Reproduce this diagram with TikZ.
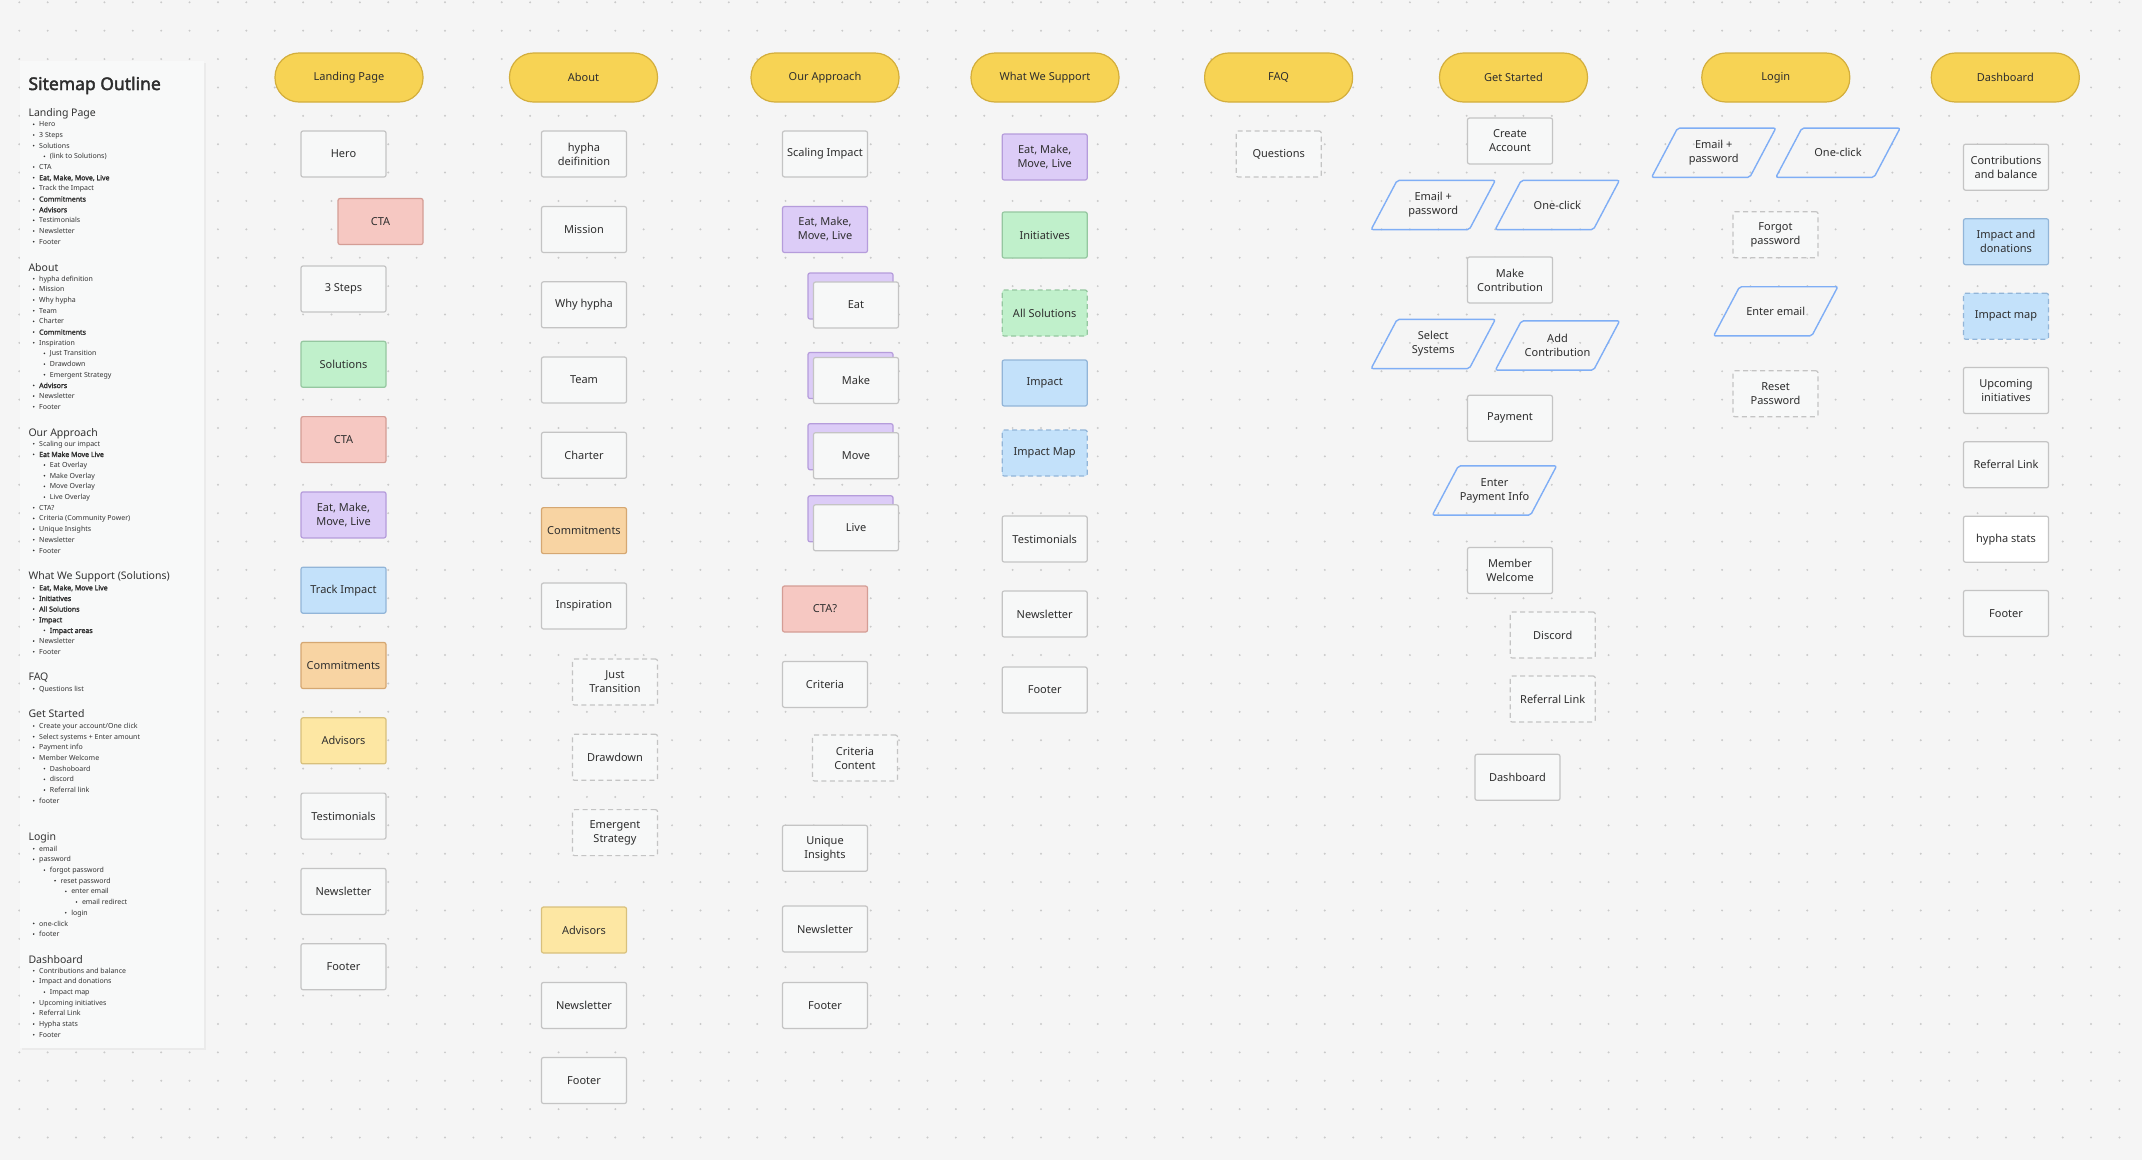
\documentclass[tikz,border=0pt]{standalone}
\usepackage{fontspec}
\setmainfont{Noto Sans}[AutoFakeBold=2.2]
\usepackage{xcolor}
\usepackage{tikz}
\usetikzlibrary{calc}

\definecolor{bgc}{HTML}{F5F5F5}
\definecolor{dotc}{HTML}{CACACA}
\definecolor{panel}{HTML}{F8F9F9}
\definecolor{txt}{HTML}{2E2E2E}
\definecolor{otxt}{HTML}{333333}
\definecolor{secf}{HTML}{F7F8F8}
\definecolor{secb}{HTML}{C4C4C4}
\definecolor{pgf}{HTML}{F7D354}
\definecolor{pgb}{HTML}{D3AE3C}
\definecolor{ctaf}{HTML}{F6C8C2}
\definecolor{ctab}{HTML}{D49D95}
\definecolor{grnf}{HTML}{C0F0CB}
\definecolor{grnb}{HTML}{95C7A0}
\definecolor{prpf}{HTML}{DCCCF7}
\definecolor{prpb}{HTML}{B59CDB}
\definecolor{bluf}{HTML}{C3E1FA}
\definecolor{blub}{HTML}{92B5D8}
\definecolor{orgf}{HTML}{F8D4A3}
\definecolor{orgb}{HTML}{D5A772}
\definecolor{ylwf}{HTML}{FDE7A3}
\definecolor{ylwb}{HTML}{D8C07C}
\definecolor{parab}{HTML}{7FAEF5}

\begin{document}
\begin{tikzpicture}[x=1pt, y=-1pt,
  box/.style={rectangle,rounded corners=2,line width=1.2,minimum width=85,minimum height=46,inner sep=1,align=center,text=txt,font=\fontsize{11}{14}\selectfont},
  sec/.style={box,draw=secb,fill=secf},
  opt/.style={sec,dash pattern=on 5pt off 3.5pt},
  cta/.style={box,draw=ctab,fill=ctaf},
  grn/.style={box,draw=grnb,fill=grnf},
  prp/.style={box,draw=prpb,fill=prpf},
  blu/.style={box,draw=blub,fill=bluf},
  org/.style={box,draw=orgb,fill=orgf},
  ylw/.style={box,draw=ylwb,fill=ylwf},
  para/.style={box,minimum width=97,minimum height=48},
  pline/.style={draw=parab,line width=1.4,rounded corners=2},
  pg/.style={rounded corners=24,draw=pgb,fill=pgf,line width=1.2,minimum width=148,minimum height=49,text=txt,font=\fontsize{11}{14}\selectfont},
  otitle/.style={anchor=base west,inner sep=0,text=txt,font=\fontsize{17.5}{20}\selectfont\bfseries},
  ohead/.style={anchor=base west,inner sep=0,text=otxt,font=\fontsize{10.5}{12}\selectfont},
  oitem/.style={anchor=base west,inner sep=0,text=otxt,font=\fontsize{7}{8}\selectfont},
  bul/.style={fill=otxt}]
  \useasboundingbox (0,0) rectangle (2142,1160);
  \fill[bgc] (0,0) rectangle (2142,1160);
  %--- dot grid ---
  \foreach \i in {0,...,74}
    \foreach \j in {0,...,40}
      \fill[dotc] ({19.3+\i*28.38},{2.3+\j*28.38}) circle (1.1);

  %--- outline panel (left) ---
  \fill[black!8] (21.5,62.5) rectangle (206,1050);
  \fill[panel] (20,61) rectangle (204,1048);
  \node[otitle] (ttl) at (28.3,90) {Sitemap Outline};
  \node[ohead] (olpH) at (28.3,116.7) {Landing Page};
  \foreach \l/\t [count=\i] in {0/Hero,0/3 Steps,0/Solutions,1/(link to Solutions),0/CTA,
      0/\textbf{Eat, Make, Move, Live},0/Track the Impact,0/\textbf{Commitments},0/\textbf{Advisors},
      0/Testimonials,0/Newsletter,0/Footer}
    {\fill[bul] ({33.7+\l*10.7},{124.3+(\i-1)*10.67}) circle (0.9);
     \node[oitem] (olp\i) at ({39+\l*10.7},{126.9+(\i-1)*10.67}) {\t};}
  \node[ohead] (oabH) at (28.3,271) {About};
  \foreach \l/\t [count=\i] in {0/hypha definition,0/Mission,0/Why hypha,0/Team,0/Charter,
      0/\textbf{Commitments},0/Inspiration,1/Just Transition,1/Drawdown,1/Emergent Strategy,
      0/\textbf{Advisors},0/Newsletter,0/Footer}
    {\fill[bul] ({33.7+\l*10.7},{278.7+(\i-1)*10.67}) circle (0.9);
     \node[oitem] (oab\i) at ({39+\l*10.7},{281.3+(\i-1)*10.67}) {\t};}
  \node[ohead] (oapH) at (28.3,436) {Our Approach};
  \foreach \l/\t [count=\i] in {0/Scaling our impact,0/\textbf{Eat Make Move Live},1/Eat Overlay,
      1/Make Overlay,1/Move Overlay,1/Live Overlay,0/CTA?,0/Criteria (Community Power),
      0/Unique Insights,0/Newsletter,0/Footer}
    {\fill[bul] ({33.7+\l*10.7},{443.7+(\i-1)*10.67}) circle (0.9);
     \node[oitem] (oap\i) at ({39+\l*10.7},{446.3+(\i-1)*10.67}) {\t};}
  \node[ohead] (owsH) at (28.3,579.7) {What We Support (Solutions)};
  \foreach \l/\t [count=\i] in {0/\textbf{Eat, Make, Move Live},0/\textbf{Initiatives},
      0/\textbf{All Solutions},0/\textbf{Impact},1/\textbf{Impact areas},0/Newsletter,0/Footer}
    {\fill[bul] ({33.7+\l*10.7},{587.7+(\i-1)*10.67}) circle (0.9);
     \node[oitem] (ows\i) at ({39+\l*10.7},{590.3+(\i-1)*10.67}) {\t};}
  \node[ohead] (ofqH) at (28.3,680.3) {FAQ};
  \fill[bul] (33.7,688.7) circle (0.9);
  \node[oitem] (ofq1) at (39,691.3) {Questions list};
  \node[ohead] (ogsH) at (28.3,717.7) {Get Started};
  \foreach \l/\t [count=\i] in {0/{Create your account/One click},0/Select systems + Enter amount,
      0/Payment info,0/Member Welcome,1/Dashoboard,1/discord,1/Referral link,0/footer}
    {\fill[bul] ({33.7+\l*10.7},{726+(\i-1)*10.67}) circle (0.9);
     \node[oitem] (ogs\i) at ({39+\l*10.7},{728.6+(\i-1)*10.67}) {\t};}
  \node[ohead] (olgH) at (28.3,840.3) {Login};
  \foreach \l/\t [count=\i] in {0/email,0/password,1/forgot password,2/reset password,
      3/enter email,4/email redirect,3/login,0/one-click,0/footer}
    {\fill[bul] ({33.7+\l*10.7},{848.7+(\i-1)*10.67}) circle (0.9);
     \node[oitem] (olg\i) at ({39+\l*10.7},{851.3+(\i-1)*10.67}) {\t};}
  \node[ohead] (odbH) at (28.3,963) {Dashboard};
  \foreach \l/\t [count=\i] in {0/Contributions and balance,0/Impact and donations,1/Impact map,
      0/Upcoming initiatives,0/Referral Link,0/Hypha stats,0/Footer}
    {\fill[bul] ({33.7+\l*10.7},{970.7+(\i-1)*10.67}) circle (0.9);
     \node[oitem] (odb\i) at ({39+\l*10.7},{973.3+(\i-1)*10.67}) {\t};}

  %--- page headers ---
  \foreach \x/\t [count=\i] in {349/Landing Page,583.5/About,825/Our Approach,1045/What We Support,
      1278.6/FAQ,1513.5/Get Started,1775.8/Login,2005.3/Dashboard}
    \node[pg] (hd\i) at (\x,77.5) {\t};

  %--- Landing Page ---
  \pgfmathsetmacro{\lx}{343.5}
  \node[sec] (lp1)  at (\lx,154)   {Hero};
  \node[cta] (lp2)  at (\lx+37,221.5) {CTA};
  \node[sec] (lp3)  at (\lx,289)   {3 Steps};
  \node[grn] (lp4)  at (\lx,364.3) {Solutions};
  \node[cta] (lp5)  at (\lx,439.6) {CTA};
  \node[prp] (lp6)  at (\lx,514.9) {Eat, Make,\\Move, Live};
  \node[blu] (lp7)  at (\lx,590.2) {Track Impact};
  \node[org] (lp8)  at (\lx,665.5) {Commitments};
  \node[ylw] (lp9)  at (\lx,740.8) {Advisors};
  \node[sec] (lp10) at (\lx,816.1) {Testimonials};
  \node[sec] (lp11) at (\lx,891.4) {Newsletter};
  \node[sec] (lp12) at (\lx,966.7) {Footer};

  %--- About ---
  \pgfmathsetmacro{\ax}{584}
  \node[sec] (ab1)  at (\ax,154)   {hypha\\deifinition};
  \node[sec] (ab2)  at (\ax,229.5) {Mission};
  \node[sec] (ab3)  at (\ax,304.8) {Why hypha};
  \node[sec] (ab4)  at (\ax,380)   {Team};
  \node[sec] (ab5)  at (\ax,455.3) {Charter};
  \node[org] (ab6)  at (\ax,530.6) {Commitments};
  \node[sec] (ab7)  at (\ax,606)   {Inspiration};
  \node[opt] (ab8)  at (\ax+31,682)   {Just\\Transition};
  \node[opt] (ab9)  at (\ax+31,757.3) {Drawdown};
  \node[opt] (ab10) at (\ax+31,832.6) {Emergent\\Strategy};
  \node[ylw] (ab11) at (\ax,930)    {Advisors};
  \node[sec] (ab12) at (\ax,1005.4) {Newsletter};
  \node[sec] (ab13) at (\ax,1080.5) {Footer};

  %--- Our Approach ---
  \pgfmathsetmacro{\px}{825}
  \node[sec] (ap1) at (\px,154)   {Scaling Impact};
  \node[prp] (ap2) at (\px,229.5) {Eat, Make,\\Move, Live};
  \foreach \t/\y/\d in {Eat/305/9,Make/380.5/5,Move/455.7/9,Live/527.8/9}
    {\node[prp] (bk\t) at (\px+25.5,\y-\d) {};
     \node[sec] (ap\t) at (\px+31,\y) {\t};}
  \node[cta] (ap3) at (\px,609)    {CTA?};
  \node[sec] (ap4) at (\px,684.4)  {Criteria};
  \node[opt] (ap5) at (\px+30,758) {Criteria\\Content};
  \node[sec] (ap6) at (\px,848.3)  {Unique\\Insights};
  \node[sec] (ap7) at (\px,929)    {Newsletter};
  \node[sec] (ap8) at (\px,1005.4) {Footer};

  %--- What We Support ---
  \pgfmathsetmacro{\wx}{1044.7}
  \node[prp] (ws1) at (\wx,157) {Eat, Make,\\Move, Live};
  \node[grn] (ws2) at (\wx,235) {Initiatives};
  \node[grn,dash pattern=on 5pt off 3.5pt] (ws3) at (\wx,313) {All Solutions};
  \node[blu] (ws4) at (\wx,383) {Impact};
  \node[blu,dash pattern=on 5pt off 3.5pt] (ws5) at (\wx,453) {Impact Map};
  \node[sec] (ws6) at (\wx,539) {Testimonials};
  \node[sec] (ws7) at (\wx,614) {Newsletter};
  \node[sec] (ws8) at (\wx,690) {Footer};

  %--- FAQ ---
  \node[opt] (fq1) at (1278.7,154) {Questions};

  %--- Get Started ---
  \pgfmathsetmacro{\gx}{1510}
  \node[sec]  (gs1)  at (\gx,141)       {Create\\Account};
  \node[para] (gs2)  at (1433.2,205)    {Email +\\password};
  \node[para] (gs3)  at (1557.3,205)    {One-click};
  \node[sec]  (gs4)  at (\gx,280)       {Make\\Contribution};
  \node[para] (gs5)  at (1433.2,344)    {Select\\Systems};
  \node[para] (gs6)  at (1557.5,345.5)  {Add\\Contribution};
  \node[sec]  (gs7)  at (\gx,418.3)     {Payment};
  \node[para] (gs8)  at (1494.5,490.5)  {Enter\\Payment Info};
  \node[sec]  (gs9)  at (\gx,570.5)     {Member\\Welcome};
  \node[opt]  (gs10) at (\gx+42.7,635)  {Discord};
  \node[opt]  (gs11) at (\gx+42.7,699)  {Referral Link};
  \node[sec]  (gs12) at (\gx+7.5,777.3) {Dashboard};

  %--- Login ---
  \node[para] (lg1) at (1713.7,152.7) {Email +\\password};
  \node[para] (lg2) at (1838,152.7)   {One-click};
  \node[opt]  (lg3) at (1775.5,234.7) {Forgot\\password};
  \node[para] (lg4) at (1775.7,311.3) {Enter email};
  \node[opt]  (lg5) at (1775.5,393.8) {Reset\\Password};

  %--- Dashboard ---
  \pgfmathsetmacro{\dx}{2006}
  \node[sec] (db1) at (\dx,167.2) {Contributions\\and balance};
  \node[blu] (db2) at (\dx,241.7) {Impact and\\donations};
  \node[blu,dash pattern=on 5pt off 3.5pt] (db3) at (\dx,316.2) {Impact map};
  \node[sec] (db4) at (\dx,390.5) {Upcoming\\initiatives};
  \node[sec] (db5) at (\dx,464.8) {Referral Link};
  \node[sec,fill=white] (db6) at (\dx,539.2) {hypha stats};
  \node[sec] (db7) at (\dx,613.5) {Footer};

  %--- input parallelograms ---
  \foreach \n in {gs2,gs3,gs5,gs6,gs8,lg1,lg2,lg4}
    \draw[pline] ([xshift=-13]\n.south west) -- ([xshift=13]\n.north west)
      -- ([xshift=13]\n.north east) -- ([xshift=-13]\n.south east) -- cycle;
\end{tikzpicture}
\end{document}
